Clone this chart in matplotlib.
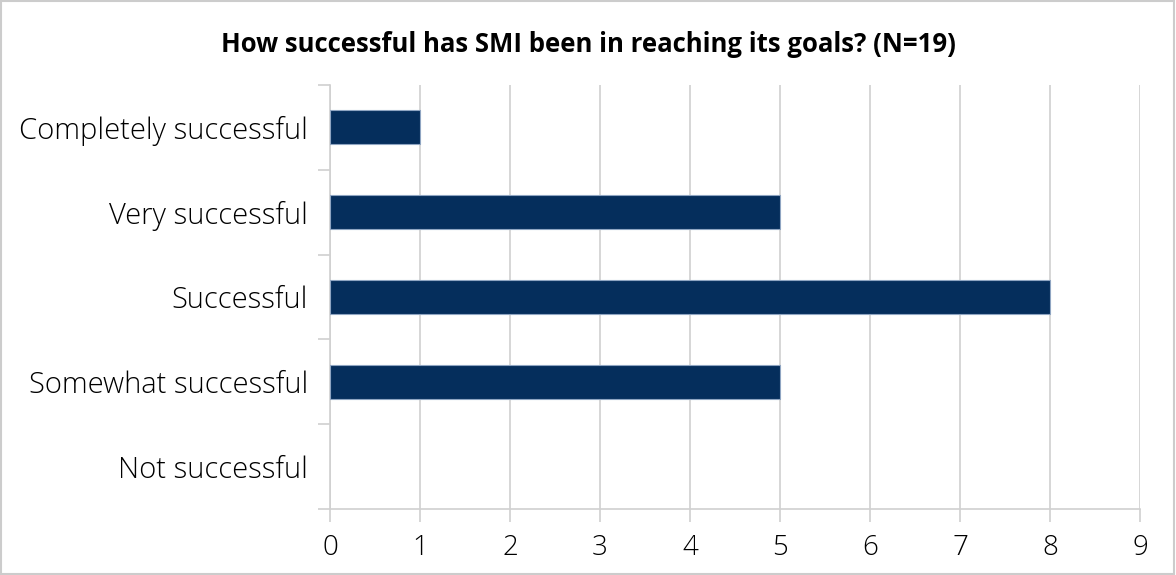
import matplotlib
matplotlib.use("Agg")
import matplotlib.pyplot as plt
from matplotlib.patches import Rectangle

categories = ["Completely successful", "Very successful", "Successful",
              "Somewhat successful", "Not successful"]
counts = [1, 5, 8, 5, 0]
x_ticks = list(range(0, 10))

plt.rcParams['font.family'] = ['Open Sans', 'DejaVu Sans']

fig = plt.figure(figsize=(11.76, 5.75), dpi=100)
ax = fig.add_axes([0.2806, 0.1148, 0.6888, 0.7374])

ypos = list(range(len(categories)))[::-1]
edges = ['#8fa5c2' if c else 'none' for c in counts]
ax.barh(ypos, counts, height=0.4, color='#052e5c', edgecolor=edges,
        linewidth=0.8, zorder=3)

ax.set_xlim(0, 9)
ax.set_ylim(-0.5, len(categories) - 0.5)
ax.set_xticks(x_ticks)
ax.set_xticklabels([str(t) for t in x_ticks], fontsize=20, fontweight='light')
ax.xaxis.grid(True, color='#d0d0d0', linewidth=1.2, zorder=0)

# category labels at centres, tick marks on the band boundaries
ax.set_yticks(ypos)
ax.set_yticklabels(categories, fontsize=21, fontweight='light')
ax.tick_params(axis='y', length=0, pad=16)
ax.set_yticks([i - 0.5 for i in range(len(categories) + 1)], minor=True)
ax.tick_params(axis='y', which='minor', length=9, color='#d0d0d0', width=1.2)
ax.tick_params(axis='x', length=9, color='#d0d0d0', width=1.2, pad=9)

for side in ['top', 'right']:
    ax.spines[side].set_visible(False)
for side in ['left', 'bottom']:
    ax.spines[side].set_color('#d0d0d0')
    ax.spines[side].set_linewidth(1.2)

fig.text(0.5, 0.922, "How successful has SMI been in reaching its goals? (N=19)",
         ha='center', va='center', fontsize=18.5, fontweight='bold')

fig.patches.append(Rectangle((0.001, 0.002), 0.997, 0.996, transform=fig.transFigure,
                             fill=False, edgecolor='#cccccc', linewidth=1.5))

fig.savefig("out.png", dpi=100)
plt.close(fig)
